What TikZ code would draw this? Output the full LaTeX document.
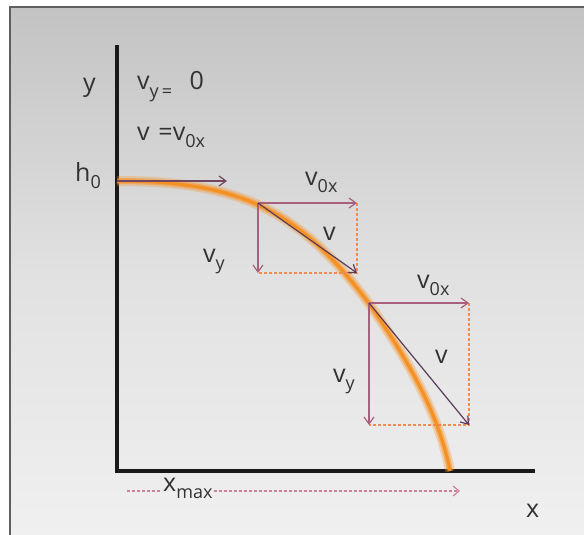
\documentclass[tikz,border=0pt]{standalone}
\usepackage{fontspec}
\setmainfont{Open Sans}
\usetikzlibrary{arrows.meta}
\definecolor{bgtop}{RGB}{195,195,195}
\definecolor{bgbot}{RGB}{240,240,240}
\definecolor{frame}{RGB}{95,95,95}
\definecolor{vec}{RGB}{170,95,125}
\definecolor{vres}{RGB}{90,60,90}
\definecolor{vtop}{RGB}{115,70,95}
\definecolor{dsh}{RGB}{240,140,80}
\definecolor{xdsh}{RGB}{205,130,155}
\definecolor{txt}{RGB}{50,50,50}
\definecolor{traj}{RGB}{245,145,35}
\newcommand{\sbs}[1]{\raisebox{-0.3em}{\fontsize{18}{18}\selectfont #1}}
\begin{document}
\begin{tikzpicture}[x=1pt,y=-1pt,
  lbl/.style={text=txt,font=\fontsize{25}{27}\selectfont,inner sep=0pt,anchor=base west},
  axis/.style={line width=4pt,black!90},
  vecarrow/.style={line width=1.2pt,-{Straight Barb[length=7pt,width=10pt]}},
  boxdash/.style={dsh,line width=1.3pt,dash pattern=on 3pt off 2pt}]
\useasboundingbox (0,0) rectangle (584,535);
\fill[white] (0,0) rectangle (584,535);
\shade[top color=bgtop,bottom color=bgbot,middle color={rgb,255:red,225;green,225;blue,225}] (10,7) rectangle (584,535);
\draw[frame,line width=1.5pt] (10,535) -- (10,7) -- (584,7);
% axes
\coordinate (ytop) at (117,45);
\coordinate (ybot) at (117,472);
\coordinate (xl) at (115,471);
\coordinate (xr) at (535,471);
\draw[axis] (ytop) -- (ybot);
\draw[axis] (xl) -- (xr);
% trajectory
\coordinate (h0) at (117,181);
\def\trajpath{(117,181) .. controls (240,181) and (300,210) .. (370,305) .. controls (415,370) and (440,420) .. (450,471)}
\draw[traj,opacity=0.3,line width=10pt] \trajpath;
\draw[traj,opacity=0.5,line width=6pt] \trajpath;
\draw[traj,line width=3pt] \trajpath;
% top arrow
\coordinate (t1) at (227,181);
\draw[vecarrow,vtop] (h0) -- (t1);
% box 1
\coordinate (a1) at (258,203);
\coordinate (b1) at (357,203);
\coordinate (c1) at (258,273);
\coordinate (d1) at (357,273);
\draw[boxdash] (b1) -- (d1) -- (c1);
\draw[vecarrow,vec] (a1) -- (b1);
\draw[vecarrow,vec] (a1) -- (c1);
\draw[vecarrow,vres] (a1) -- (d1);
% box 2
\coordinate (a2) at (369,303);
\coordinate (b2) at (469,303);
\coordinate (c2) at (369,425);
\coordinate (d2) at (469,425);
\draw[boxdash] (b2) -- (d2) -- (c2);
\draw[vecarrow,vec] (a2) -- (b2);
\draw[vecarrow,vec] (a2) -- (c2);
\draw[vecarrow,vres] (a2) -- (d2);
% labels
\node[lbl] (ly) at (83,92) {y};
\node[lbl] (lh) at (75,181) {h\sbs{0}};
\node[lbl] (lv1) at (137,90) {v\sbs{y\,=}\hspace{0.7em}0};
\node[lbl] (lv2) at (137,140) {v\hspace{0.35em}=v\sbs{0x}};
\node[lbl] (b1x) at (305,185) {v\sbs{0x}};
\node[lbl] (b1v) at (323,240) {v};
\node[lbl] (b1y) at (203,262) {v\sbs{y}};
\node[lbl] (b2x) at (417,288) {v\sbs{0x}};
\node[lbl] (b2v) at (435,363) {v};
\node[lbl] (b2y) at (333,382) {v\sbs{y}};
\node[lbl] (lx) at (526,517) {x};
\node[lbl,inner xsep=1pt] (lxm) at (162,491) {x\sbs{max}};
% xmax arrow
\coordinate (xs) at (127,491);
\coordinate (xe) at (460,491);
\draw[xdsh,line width=1.2pt,dash pattern=on 3pt off 2pt] (xs) -- (lxm.west |- xs);
\draw[xdsh,line width=1.2pt,dash pattern=on 3pt off 2pt,-{Straight Barb[length=6pt,width=10pt]}] (lxm.east |- xs) -- (xe);
\end{tikzpicture}
\end{document}
